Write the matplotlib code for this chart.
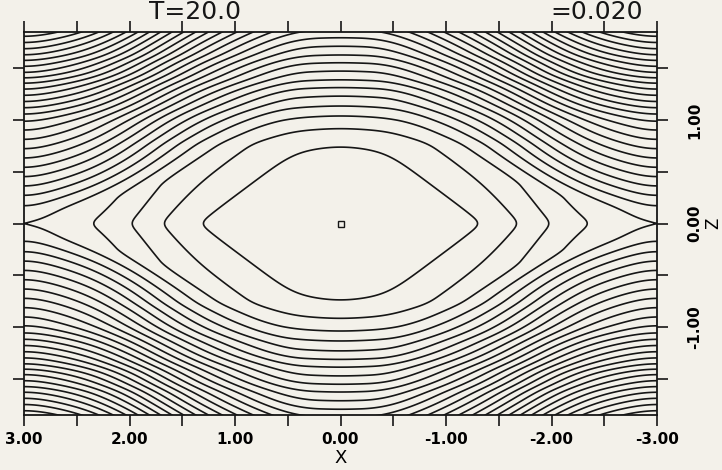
import numpy as np
import matplotlib.pyplot as plt

plt.rcParams['axes.unicode_minus'] = False
plt.rcParams['font.family'] = 'DejaVu Sans'
plt.rcParams['contour.negative_linestyle'] = 'solid'

# flux-surface crossings of the x=0 column, levels -4 .. 7 (separatrix is level 0)
z_mid = [0.77, 0.93, 1.05, 1.14, 1.24, 1.32, 1.39, 1.48, 1.56, 1.63, 1.72, 1.80]
lev_mid = list(range(-4, 8))

# crossings of the x=+-3 column (through the X-point), levels 1 .. 24
z_edge = [0.16, 0.26, 0.35, 0.44, 0.53, 0.62, 0.71, 0.80, 0.89, 0.98, 1.05, 1.11,
          1.17, 1.23, 1.29, 1.35, 1.40, 1.45, 1.51, 1.57, 1.62, 1.68, 1.74, 1.80]
lev_edge = list(range(1, 25))

# crossings along the midplane z=0: O-point, closed surfaces, X-point
x_mid = [0.0, 0.45, 1.36, 1.71, 1.99, 2.35, 3.0]
lev_x = [-6.0, -5.8, -4, -3, -2, -1, 0]

levels = list(range(-4, 26))
o_point = (0.0, 0.0)

x_ticks = [3, 2, 1, 0, -1, -2, -3]
x_minor = [2.5, 1.5, 0.5, -0.5, -1.5, -2.5]
z_ticks = [-1, 0, 1]
z_minor = [-1.5, -0.5, 0.5, 1.5]

title_left = "T=20.0"
title_right = "=0.020"


def profile(grid, knots, values):
    # piecewise linear through the crossings, carried straight on past the last one
    k = np.asarray(knots, float)
    v = np.asarray(values, float)
    out = np.interp(grid, k, v)
    slope = (v[-1] - v[-2]) / (k[-1] - k[-2])
    far = grid > k[-1]
    out[far] = v[-1] + slope * (grid[far] - k[-1])
    return out


def smooth(y, step, width):
    n = int(3 * width / step)
    t = np.arange(-n, n + 1) * step
    kern = np.exp(-0.5 * (t / width) ** 2)
    kern /= kern.sum()
    return np.convolve(np.pad(y, n, mode='reflect'), kern, mode='valid')


step = 0.005
x = np.arange(-3.0, 3.0 + step / 2, step)
z = np.arange(-2.2, 2.2 + step / 2, step)

# midplane profile and the rise away from it at the O- and X-columns
psi0 = smooth(profile(np.abs(x), x_mid, lev_x), step, 0.14)
rise_mid = smooth(profile(np.abs(z), [0.0] + z_mid, [0.0] + [l - lev_x[0] for l in lev_mid]), step, 0.035)
rise_edge = smooth(profile(np.abs(z), [0.0] + z_edge, [0.0] + lev_edge), step, 0.03)

# weight of the X-column profile: narrow near the sheet, wide far from it
x0 = 2.6 / (1.0 + (np.abs(z) / 0.5) ** 2)
u = np.clip((np.abs(x)[None, :] - x0[:, None]) / (3.0 - x0[:, None]), 0.0, 1.0)
w = 0.5 * (1.0 - np.cos(np.pi * u))

psi = psi0[None, :] + rise_mid[:, None] + w * (rise_edge - rise_mid)[:, None]
# put the separatrix level exactly on the X-point
iz0 = np.argmin(np.abs(z))
psi -= psi[iz0, -1] - 1e-6

bg = '#f3f1ea'
ink = '#161616'

fig = plt.figure(figsize=(7.22, 4.70), dpi=100, facecolor=bg)
ax = fig.add_axes([24 / 722, 55 / 470, 633 / 722, 383 / 470])
ax.set_facecolor(bg)

X, Z = np.meshgrid(x, z)
ax.contour(X, Z, psi, levels=levels, colors=ink, linewidths=1.2, linestyles='solid')
ax.plot(*o_point, marker='s', ms=5, mfc='none', mec=ink, mew=1.0)

ax.set_xlim(3, -3)
ax.set_ylim(-1.85, 1.85)

ax.set_xticks(x_ticks)
ax.set_xticklabels(["%.2f" % t for t in x_ticks])
ax.set_xticks(x_minor, minor=True)
ax.set_yticks(z_ticks)
ax.set_yticklabels(["%.2f" % t for t in z_ticks])
ax.set_yticks(z_minor, minor=True)

ax.tick_params(which='both', direction='out', length=8, width=1.2, color=ink,
               top=True, bottom=True, left=True, right=True,
               labelleft=False, labelright=True, labeltop=False, labelbottom=True)
ax.tick_params(axis='x', labelsize=11, pad=4)
ax.tick_params(axis='y', labelsize=11, pad=14)
for lbl in ax.get_xticklabels() + ax.get_yticklabels():
    lbl.set_fontweight('bold')
for lbl in ax.get_yticklabels():
    lbl.set_rotation(90)
    lbl.set_va('center')

for sp in ax.spines.values():
    sp.set_color(ink)
    sp.set_linewidth(1.3)

ax.set_xlabel("X", fontsize=13, labelpad=2)
ax.yaxis.set_label_position('right')
ax.set_ylabel("Z", fontsize=12, rotation=90, labelpad=1)

fig.text(195 / 722, 1 - 12 / 470, title_left, fontsize=18, ha='center', va='center', color=ink)
fig.text(597 / 722, 1 - 12 / 470, title_right, fontsize=18, ha='center', va='center', color=ink)

fig.savefig("out.png", dpi=100, facecolor=bg)
